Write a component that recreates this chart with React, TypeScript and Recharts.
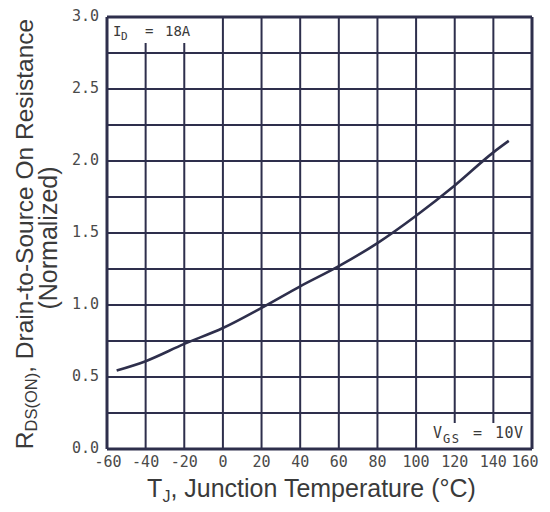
import {
  CartesianGrid,
  Line,
  LineChart,
  ReferenceArea,
  XAxis,
  YAxis,
} from "recharts";

// junction temperature (°C) vs normalized on-resistance
const TEMPS = [-55, -40, -20, 0, 20, 40, 60, 80, 100, 120, 140, 148];
const RDS_NORM = [0.545, 0.61, 0.73, 0.84, 0.98, 1.13, 1.27, 1.43, 1.62, 1.83, 2.06, 2.14];

const X_TICKS = [-60, -40, -20, 0, 20, 40, 60, 80, 100, 120, 140, 160];
const Y_TICKS = [0, 0.5, 1.0, 1.5, 2.0, 2.5, 3.0];
const Y_GRID = [0, 0.25, 0.5, 0.75, 1.0, 1.25, 1.5, 1.75, 2.0, 2.25, 2.5, 2.75, 3.0];

const INK = "#2e2f4c";
const TEXT = "#3a3a3a";
const TICK = "#4a4a4a";
const MONO = "'DejaVu Sans Mono', monospace";
const SANS = "'Liberation Sans', Arial, sans-serif";

const chartData = TEMPS.map((t, i) => ({ t, r: RDS_NORM[i] }));

// last label pulled inward so it stays on the page
function XTick(props: any) {
  const { x, y, payload } = props;
  const v = payload.value;
  const shift = v === 160 ? -7 : v === -60 ? 1 : 0;
  return (
    <text
      x={x + shift}
      y={y + 1}
      dy="0.71em"
      textAnchor="middle"
      fontFamily={MONO}
      fontSize={15}
      fill={TICK}
    >
      {v}
    </text>
  );
}

function IdNote(props: any) {
  const { x, y } = props.viewBox;
  return (
    <text fontFamily={MONO} fontSize={14} fill={TEXT} y={y + 19}>
      <tspan x={x + 6}>I</tspan>
      <tspan x={x + 14} dy={4} fontSize={11}>D</tspan>
      <tspan x={x + 38} dy={-4}>=</tspan>
      <tspan x={x + 58}>18A</tspan>
    </text>
  );
}

function VgsNote(props: any) {
  const { x, y, width, height } = props.viewBox;
  const right = x + width;
  const bottom = y + height;
  return (
    <text fontFamily={MONO} fontSize={15} fill={TEXT} y={bottom - 11}>
      <tspan x={right - 99}>V</tspan>
      <tspan x={right - 89} dy={5} fontSize={12} letterSpacing={1.5}>GS</tspan>
      <tspan x={right - 59} dy={-5}>=</tspan>
      <tspan x={right - 37} letterSpacing={0.5}>10V</tspan>
    </text>
  );
}

function XTitle(props: any) {
  const { x, y, width } = props.viewBox;
  return (
    <text
      x={x + width / 2 - 8}
      y={y + 48}
      textAnchor="middle"
      fontFamily={SANS}
      fontSize={25}
      fill={TEXT}
    >
      T
      <tspan fontSize={16} dy={5}>J</tspan>
      <tspan dy={-5}>, Junction Temperature (°C)</tspan>
    </text>
  );
}

function YTitle() {
  return (
    <g fontFamily={SANS} fill={TEXT}>
      <text x={33} y={234} transform="rotate(-90 33 234)" textAnchor="middle" fontSize={24.5}>
        R
        <tspan fontSize={16.5} dy={4}>DS(ON)</tspan>
        <tspan dy={-4}>, Drain-to-Source On Resistance</tspan>
      </text>
      <text x={57} y={238} transform="rotate(-90 57 238)" textAnchor="middle" fontSize={25}>
        (Normalized)
      </text>
    </g>
  );
}

export default function App() {
  return (
    <div style={{ margin: -8, width: 550, height: 512, overflow: "hidden" }}>
      <LineChart
        width={550}
        height={512}
        data={chartData}
        margin={{ top: 16, right: 17, bottom: 13, left: 0 }}
      >
        <CartesianGrid
          horizontalValues={Y_GRID}
          verticalValues={X_TICKS}
          stroke={INK}
          strokeWidth={2}
        />
        <ReferenceArea
          x1={-60}
          x2={-5}
          y1={2.82}
          y2={3}
          fill="#ffffff"
          fillOpacity={1}
          stroke="none"
          label={<IdNote />}
        />
        <ReferenceArea
          x1={105}
          x2={160}
          y1={0}
          y2={0.18}
          fill="#ffffff"
          fillOpacity={1}
          stroke="none"
          label={<VgsNote />}
        />
        <Line
          type="monotone"
          dataKey="r"
          stroke={INK}
          strokeWidth={2.6}
          dot={false}
          isAnimationActive={false}
        />
        <XAxis
          dataKey="t"
          type="number"
          domain={[-60, 160]}
          ticks={X_TICKS}
          interval={0}
          height={50}
          tickLine={false}
          tickSize={0}
          tickMargin={6}
          axisLine={{ stroke: INK, strokeWidth: 3 }}
          tick={<XTick />}
          label={<XTitle />}
        />
        <XAxis
          xAxisId="top"
          orientation="top"
          type="number"
          domain={[-60, 160]}
          height={1}
          tick={false}
          tickLine={false}
          axisLine={{ stroke: INK, strokeWidth: 3 }}
        />
        <YAxis
          type="number"
          domain={[0, 3]}
          ticks={Y_TICKS}
          interval={0}
          width={107}
          tickLine={false}
          tickSize={0}
          tickMargin={8}
          tickFormatter={(v: number) => v.toFixed(1)}
          axisLine={{ stroke: INK, strokeWidth: 3 }}
          tick={{ fontFamily: MONO, fontSize: 15, fill: TICK, dy: -1 }}
          label={<YTitle />}
        />
        <YAxis
          yAxisId="right"
          orientation="right"
          type="number"
          domain={[0, 3]}
          width={1}
          tick={false}
          tickLine={false}
          axisLine={{ stroke: INK, strokeWidth: 3 }}
        />
      </LineChart>
    </div>
  );
}
